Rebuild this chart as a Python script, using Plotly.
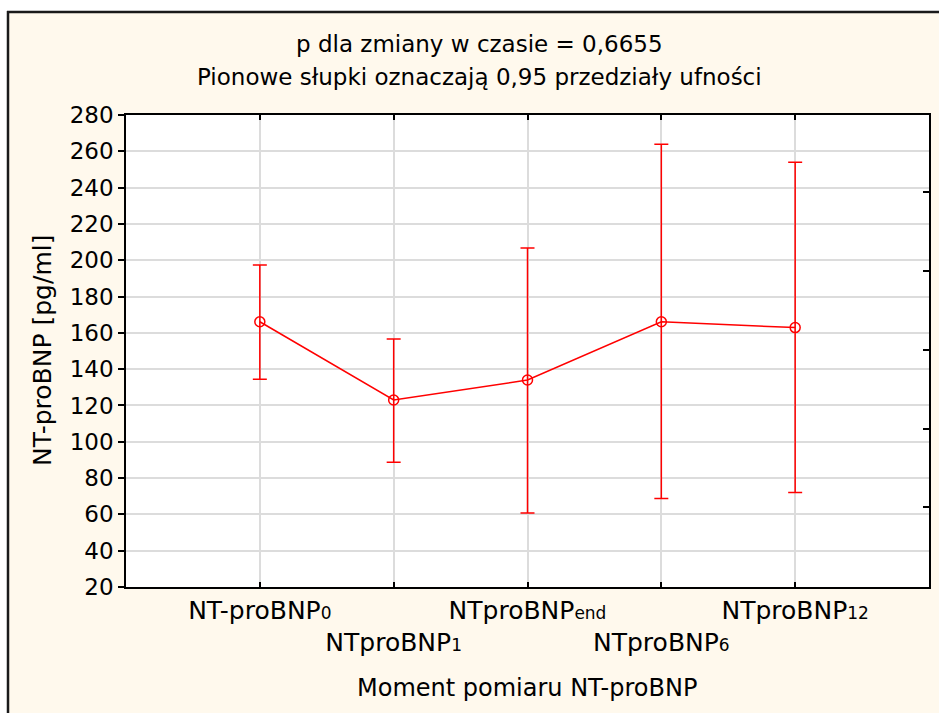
import plotly.graph_objects as go

# ---- data ----
categories = ["NT-proBNP0", "NTproBNP1", "NTproBNPend", "NTproBNP6", "NTproBNP12"]
cat_main = ["NT-proBNP", "NTproBNP", "NTproBNP", "NTproBNP", "NTproBNP"]
cat_sub = ["0", "1", "end", "6", "12"]
means = [166.1, 123.0, 134.0, 166.1, 162.9]
ci_upper = [197.4, 156.6, 206.7, 263.9, 254.0]
ci_lower = [134.4, 88.7, 60.8, 68.7, 72.0]
y_ticks = list(range(20, 281, 20))
right_ticks = [63.8, 107.3, 150.8, 194.3, 237.8]

title1 = "p dla zmiany w czasie = 0,6655"
title2 = "Pionowe słupki oznaczają 0,95 przedziały ufności"
x_title = "Moment pomiaru NT-proBNP"
y_title = "NT-proBNP [pg/ml]"

FONT = "DejaVu Sans"
RED = "#FF0000"
CREAM = "#FFF9ED"
GRID = "#DCDCDC"

# plot area in pixels
L, R, T, B = 126, 929, 115, 587
W, H = R - L, B - T
def px(x):
    return (x - L) / W
def py(y):
    return (B - y) / H

xpos = list(range(len(categories)))
err_plus = [u - m for u, m in zip(ci_upper, means)]
err_minus = [m - l for m, l in zip(means, ci_lower)]

ticktext = []
for i, (m, s) in enumerate(zip(cat_main, cat_sub)):
    lab = f"{m}<span style='font-size:17px'>{s}</span>"
    if i % 2 == 1:
        lab = " <br>" + lab
    ticktext.append(lab)

fig = go.Figure()
fig.add_trace(go.Scatter(
    x=xpos, y=means, mode="lines+markers",
    line=dict(color=RED, width=1.5),
    marker=dict(symbol="circle-open", size=10, color=RED, line=dict(width=1.5, color=RED)),
    error_y=dict(type="data", symmetric=False, array=err_plus, arrayminus=err_minus,
                 color=RED, thickness=1.5, width=7),
    showlegend=False, hoverinfo="skip",
))
fig.add_trace(go.Scatter(x=[None], y=[None], yaxis="y2", showlegend=False, hoverinfo="skip"))

fig.update_layout(
    width=939, height=713,
    margin=dict(l=L, r=939 - R, t=T, b=713 - B, autoexpand=False),
    paper_bgcolor=CREAM, plot_bgcolor="white",
    font=dict(family=FONT, size=23, color="black"),
    xaxis=dict(
        range=[-1, 5], tickvals=xpos, ticktext=ticktext, tickangle=0,
        tickfont=dict(size=25, family=FONT, color="black"),
        showgrid=True, gridcolor=GRID, gridwidth=1.5,
        showline=True, linecolor="black", linewidth=1.5, mirror="ticks",
        ticks="inside", ticklen=5, tickcolor="black", tickwidth=1.5,
        zeroline=False, fixedrange=True,
    ),
    yaxis=dict(
        range=[20, 280], tickvals=y_ticks,
        tickfont=dict(size=23, family=FONT, color="black"),
        showgrid=True, gridcolor=GRID, gridwidth=1.5,
        showline=True, linecolor="black", linewidth=1.5, mirror=True,
        ticks="outside", ticklen=6, tickcolor="black", tickwidth=1.5,
        zeroline=False, fixedrange=True,
    ),
    yaxis2=dict(
        range=[20, 280], overlaying="y", side="right", tickvals=right_ticks,
        showticklabels=False, showgrid=False, showline=False, zeroline=False,
        ticks="inside", ticklen=6, tickcolor="black", tickwidth=1.5,
    ),
    annotations=[
        dict(text=title1, x=px(479), y=py(44), xref="paper", yref="paper",
             showarrow=False, xanchor="center", yanchor="middle", font=dict(size=23)),
        dict(text=title2, x=px(479), y=py(77), xref="paper", yref="paper",
             showarrow=False, xanchor="center", yanchor="middle", font=dict(size=23)),
        dict(text=x_title, x=px(527), y=py(688), xref="paper", yref="paper",
             showarrow=False, xanchor="center", yanchor="middle", font=dict(size=24)),
        dict(text=y_title, x=px(42), y=py(351), xref="paper", yref="paper",
             showarrow=False, xanchor="center", yanchor="middle", textangle=-90,
             font=dict(size=25)),
    ],
    shapes=[
        dict(type="rect", xref="paper", yref="paper", x0=px(-5), x1=px(8), y0=py(720), y1=py(-5),
             fillcolor="white", line=dict(width=0), layer="above"),
        dict(type="rect", xref="paper", yref="paper", x0=px(-5), x1=px(945), y0=py(12), y1=py(-5),
             fillcolor="white", line=dict(width=0), layer="above"),
        dict(type="line", xref="paper", yref="paper", x0=px(8), x1=px(8), y0=py(11), y1=py(720),
             line=dict(color="#1a1a1a", width=2.5), layer="above"),
        dict(type="line", xref="paper", yref="paper", x0=px(7), x1=px(945), y0=py(12), y1=py(12),
             line=dict(color="#1a1a1a", width=2.5), layer="above"),
    ],
)

fig.write_html("out.html")
